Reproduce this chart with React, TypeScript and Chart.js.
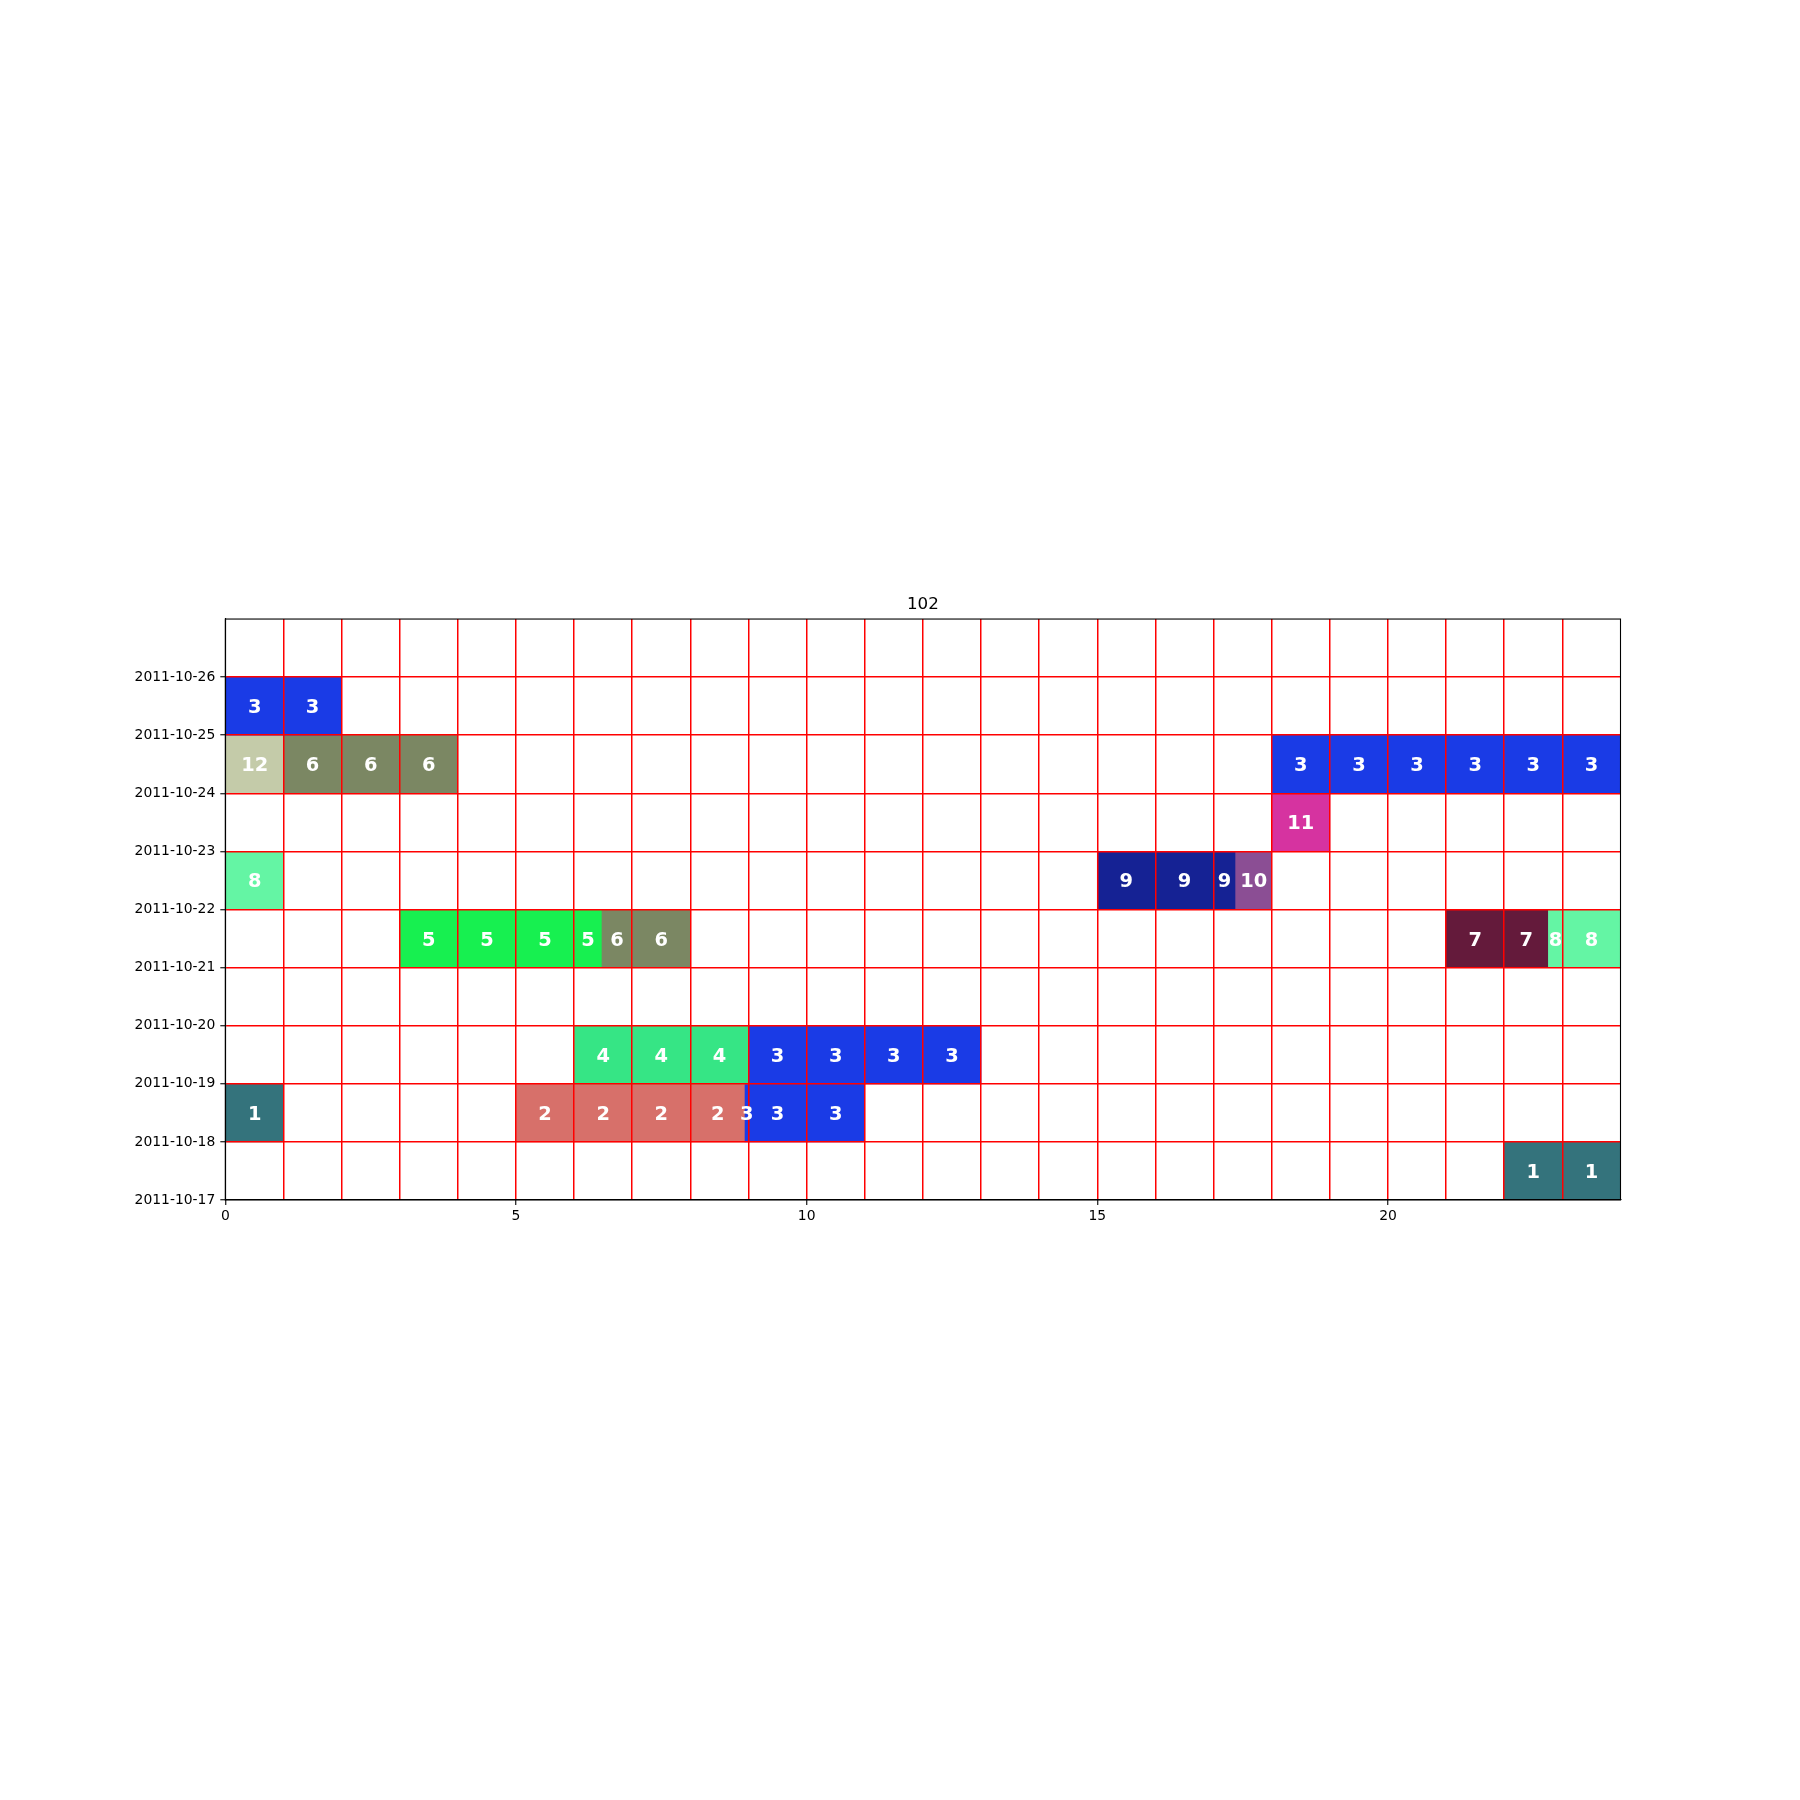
import React, { useEffect, useRef } from 'react';
import { Chart, registerables } from 'chart.js';

Chart.register(...registerables);

const chartTitle = '102';
const dayLabels = [
  '2011-10-17', '2011-10-18', '2011-10-19', '2011-10-20', '2011-10-21',
  '2011-10-22', '2011-10-23', '2011-10-24', '2011-10-25', '2011-10-26',
];
const hourTickLabels = [0, 5, 10, 15, 20];

// one entry per block: day row index, start hour, end hour, group number
const barDay = [
  0, 0,
  1, 1, 1, 1, 1, 1, 1, 1,
  2, 2, 2, 2, 2, 2, 2,
  4, 4, 4, 4, 4, 4, 4, 4, 4, 4,
  5, 5, 5, 5, 5,
  6,
  7, 7, 7, 7, 7, 7, 7, 7, 7, 7,
  8, 8,
];
const barStart = [
  22, 23,
  0, 5, 6, 7, 8, 8.94, 9, 10,
  6, 7, 8, 9, 10, 11, 12,
  3, 4, 5, 6, 6.48, 7, 21, 22, 22.76, 23,
  0, 15, 16, 17, 17.38,
  18,
  0, 1, 2, 3, 18, 19, 20, 21, 22, 23,
  0, 1,
];
const barEnd = [
  23, 24,
  1, 6, 7, 8, 8.94, 9, 10, 11,
  7, 8, 9, 10, 11, 12, 13,
  4, 5, 6, 6.48, 7, 8, 22, 22.76, 23, 24,
  1, 16, 17, 17.38, 18,
  19,
  1, 2, 3, 4, 19, 20, 21, 22, 23, 24,
  1, 2,
];
const barGroup = [
  1, 1,
  1, 2, 2, 2, 2, 3, 3, 3,
  4, 4, 4, 3, 3, 3, 3,
  5, 5, 5, 5, 6, 6, 7, 7, 8, 8,
  8, 9, 9, 9, 10,
  11,
  12, 6, 6, 6, 3, 3, 3, 3, 3, 3,
  3, 3,
];

const groupColors: Record<number, string> = {
  1: '#34737c',
  2: '#d7706a',
  3: '#1a3be6',
  4: '#36e585',
  5: '#17f050',
  6: '#7b8763',
  7: '#641a3b',
  8: '#64f5a4',
  9: '#152294',
  10: '#8b4e94',
  11: '#d633a0',
  12: '#c4cba9',
};

const FONT = "'DejaVu Sans', sans-serif";

const framePlugin = {
  id: 'frameAndLabels',
  afterDraw(chart: any) {
    const { ctx, chartArea } = chart;
    ctx.save();
    // block labels
    const meta = chart.getDatasetMeta(0);
    ctx.fillStyle = '#ffffff';
    ctx.font = `bold 19.4px ${FONT}`;
    ctx.textAlign = 'center';
    ctx.textBaseline = 'alphabetic';
    meta.data.forEach((el: any, i: number) => {
      const p = el.getCenterPoint();
      const txt = String(barGroup[i]);
      const m = ctx.measureText(txt);
      const y = p.y + (m.actualBoundingBoxAscent - m.actualBoundingBoxDescent) / 2;
      ctx.fillText(txt, p.x, y);
    });
    // axes frame
    ctx.strokeStyle = '#000000';
    ctx.lineWidth = 1.1;
    ctx.strokeRect(chartArea.left, chartArea.top, chartArea.right - chartArea.left, chartArea.bottom - chartArea.top);
    ctx.restore();
  },
};

export default function App() {
  const ref = useRef<HTMLCanvasElement | null>(null);

  useEffect(() => {
    if (!ref.current) return;
    const chart = new Chart(ref.current, {
      type: 'bar',
      data: {
        datasets: [
          {
            data: barStart.map((s, i) => ({ x: [s, barEnd[i]], y: barDay[i] + 0.5 })) as any,
            backgroundColor: barGroup.map((g) => groupColors[g]),
            borderWidth: 0,
            barPercentage: 1,
            categoryPercentage: 1,
            grouped: false,
          },
        ],
      },
      options: {
        indexAxis: 'y',
        animation: false,
        responsive: false,
        maintainAspectRatio: false,
        devicePixelRatio: 1,
        layout: { padding: { left: 0, top: 595, right: 179.5, bottom: 570 } },
        plugins: {
          legend: { display: false },
          tooltip: { enabled: false },
          title: {
            display: true,
            text: chartTitle,
            fullSize: false,
            color: '#000000',
            font: { family: FONT, size: 16.7, weight: 'normal' },
            padding: { top: 0, bottom: 4 },
          },
        },
        scales: {
          x: {
            type: 'linear',
            position: 'bottom',
            min: 0,
            max: 24,
            offset: false,
            afterBuildTicks: (s: any) => {
              s.ticks = Array.from({ length: 25 }, (_, i) => ({ value: i }));
            },
            afterFit: (s: any) => {
              s.height = 30;
            },
            ticks: {
              autoSkip: false,
              maxRotation: 0,
              padding: 3,
              color: '#000000',
              font: { family: FONT, size: 13.9 },
              callback: (v: any) => (hourTickLabels.includes(Number(v)) ? String(v) : ''),
            },
            grid: {
              z: 1,
              offset: false,
              lineWidth: 1.5,
              color: (c: any) => (c.tick && (c.tick.value === 0 || c.tick.value === 24) ? 'rgba(0,0,0,0)' : '#ff0000'),
              tickLength: 5,
              tickWidth: 1.1,
              tickColor: (c: any) => (c.tick && hourTickLabels.includes(c.tick.value) ? '#000000' : 'rgba(0,0,0,0)'),
            },
            border: { display: true, color: '#000000', width: 1.1, z: 2 },
          },
          y: {
            type: 'linear',
            position: 'left',
            min: 0,
            max: dayLabels.length,
            offset: false,
            reverse: false,
            afterBuildTicks: (s: any) => {
              s.ticks = dayLabels.map((_, i) => ({ value: i }));
            },
            afterFit: (s: any) => {
              s.width = 225.3;
            },
            ticks: {
              autoSkip: false,
              padding: 5,
              color: '#000000',
              font: { family: FONT, size: 13.9 },
              callback: (v: any) => dayLabels[Number(v)] ?? '',
            },
            grid: {
              z: 1,
              offset: false,
              lineWidth: 1.5,
              color: (c: any) => (c.tick && c.tick.value === 0 ? 'rgba(0,0,0,0)' : '#ff0000'),
              tickLength: 5,
              tickWidth: 1.1,
              tickColor: '#000000',
            },
            border: { display: true, color: '#000000', width: 1.1, z: 2 },
          },
        },
      } as any,
      plugins: [framePlugin],
    });
    return () => chart.destroy();
  }, []);

  return (
    <div style={{ position: 'absolute', left: 0, top: 0, width: 1800, height: 1800, background: '#ffffff' }}>
      <canvas ref={ref} width={1800} height={1800} style={{ display: 'block', width: 1800, height: 1800 }} />
    </div>
  );
}
